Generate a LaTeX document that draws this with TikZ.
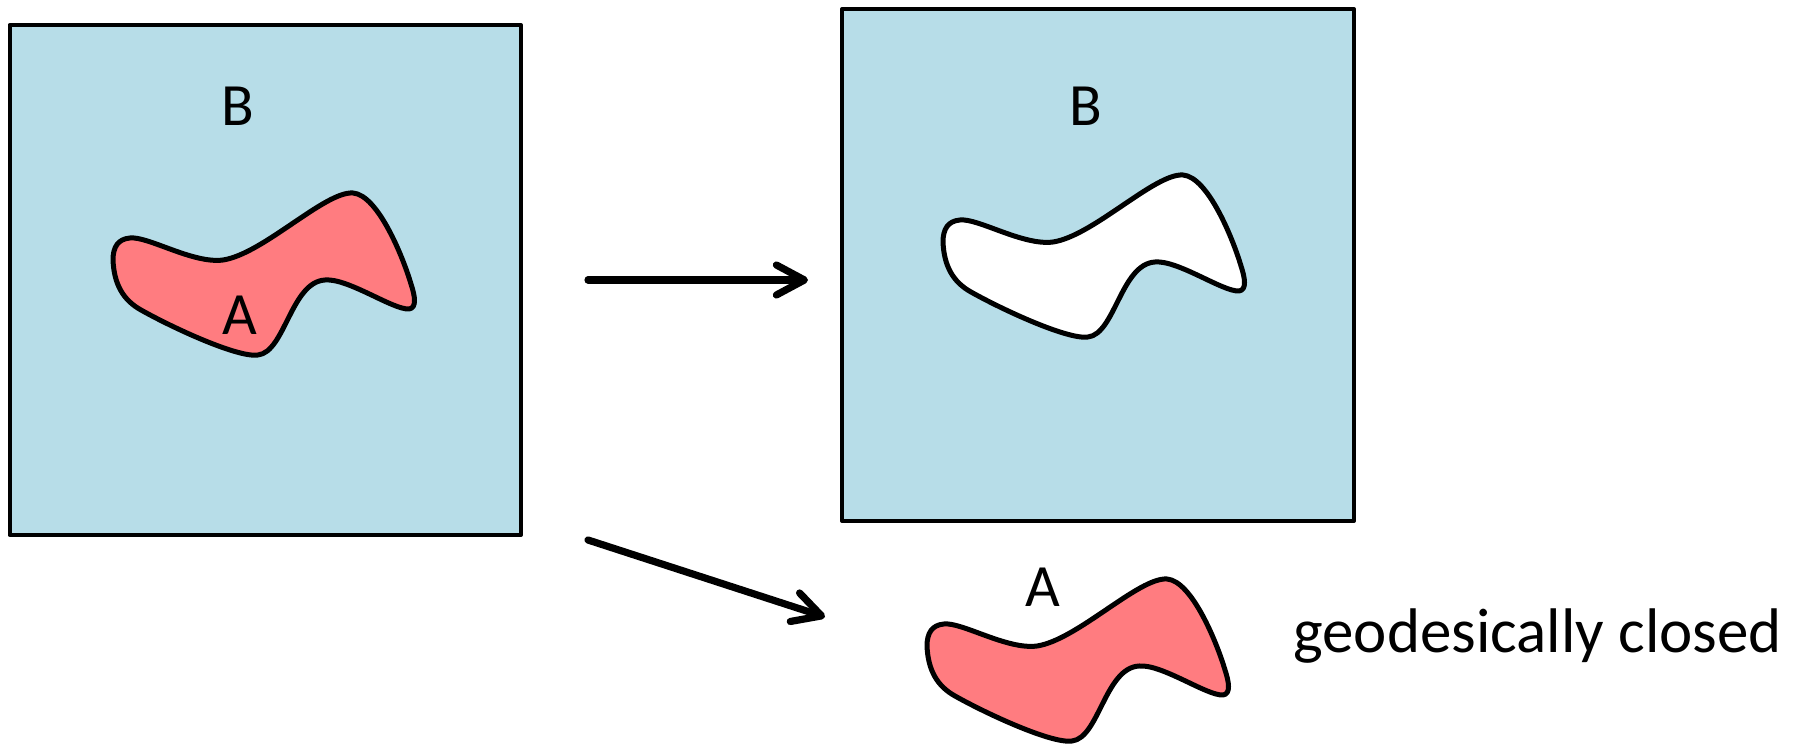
\documentclass[tikz,border=0pt]{standalone}
\usepackage{fontspec}
\setmainfont{Carlito}
\usetikzlibrary{arrows.meta}
\definecolor{skyfill}{HTML}{B7DDE8}
\definecolor{salmon}{HTML}{FF7C80}

\begin{document}
\begin{tikzpicture}[
	x=0.5pt, y=-0.5pt,
	region/.style={
		draw=black,
		line width=2pt,
		line join=round,
		fill=skyfill,
		inner sep=0pt,
		minimum width=256pt,
		minimum height=256pt
	},
	letter/.style={
		font=\fontsize{30}{36}\selectfont,
		inner sep=0pt
	},
	note/.style={
		font=\fontsize{31.5}{38}\selectfont,
		inner sep=0pt,
		anchor=base west
	},
	mapsto/.style={
		draw,
		line width=3.6pt,
		line cap=round,
		-{Straight Barb[length=14pt, width=15pt, round]}
	},
	pics/blob/.style={code={
		\draw[line width=2.5pt, line join=round, fill=#1]
		(0,68) .. controls (1,92) and (10,108) .. (28,118)
		.. controls (60,136) and (125,166) .. (145,163)
		.. controls (172,160) and (178,90) .. (212,88)
		.. controls (235,86) and (280,118) .. (296,117)
		.. controls (304,116) and (302,104) .. (298,92)
		.. controls (290,65) and (265,3) .. (240,1)
		.. controls (212,-1) and (150,62) .. (110,68)
		.. controls (80,72) and (35,44) .. (17,46)
		.. controls (5,47) and (0,55) .. (0,68) -- cycle;
	}}
	]
	
	\useasboundingbox (0,0) rectangle (1793,747);
	
	\node[region, minimum width=255.75pt, minimum height=255pt] (leftB) at (265.25,280) {};
	\node[region] (rightB) at (1098,265) {};
	
	\pic at (113,192) {blob=salmon};
	\pic at (943,174) {blob=white};
	\pic at (927,578) {blob=salmon};
	
	\node[letter] (Bleft) at (238,106) {B};
	\node[letter] (Aleft) at (240,315) {A};
	\node[letter] (Bright) at (1086,106) {B};
	\node[letter] (Abelow) at (1043,587) {A};
	\node[note] (closed) at (1293,653) {geodesically closed};
	
	\coordinate (toA) at (825,617);
	
	\draw[mapsto] ([xshift=32.5pt]leftB.east) -- ([xshift=-16pt]leftB.east -| rightB.west);
	\draw[mapsto] ([xshift=32.5pt, yshift=-1.5pt]leftB.south east) -- (toA);
\end{tikzpicture}
\end{document}
